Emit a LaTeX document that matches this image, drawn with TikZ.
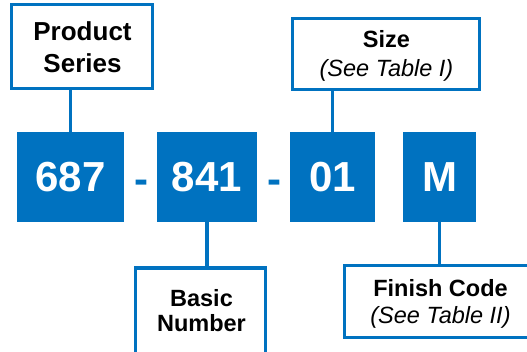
\documentclass[tikz,border=0pt]{standalone}
\usepackage{fontspec}
\setmainfont{Liberation Sans}
\definecolor{pblue}{RGB}{0,114,192}
\begin{document}
\begin{tikzpicture}[x=1pt,y=-1pt,
  bluebox/.style={fill=pblue, draw=none, inner sep=0pt, minimum height=90pt, text=white, font=\fontsize{42}{42}\selectfont\bfseries},
  lbox/.style={draw=pblue, line width=3.2pt, fill=white, inner sep=0pt},
  conn/.style={draw=pblue, line width=3.2pt},
  lt/.style={anchor=base, inner sep=0pt, font=\fontsize{23.5}{28}\selectfont\bfseries},
  lti/.style={anchor=base, inner sep=0pt, font=\fontsize{23.5}{28}\selectfont\itshape},
  hyph/.style={anchor=base, inner sep=0pt, text=pblue, font=\fontsize{42}{42}\selectfont\bfseries}
]
\useasboundingbox (0,0) rectangle (527,351);
\clip (0,0) rectangle (527,351);

% code boxes
\node[bluebox, minimum width=107pt] (b1) at (70.5,177) {687};
\node[bluebox, minimum width=100pt] (b2) at (207,177) {841};
\node[bluebox, minimum width=85pt] (b3) at (332.5,177) {01};
\node[bluebox, minimum width=73pt] (b4) at (439.5,177) {M};
\node[hyph] (h1) at (141,193) {-};
\node[hyph] (h2) at (274.5,193) {-};

% label boxes
\node[lbox, minimum width=140.8pt, minimum height=83.8pt] (ps) at (82,46.5) {};
\node[lbox, minimum width=186.8pt, minimum height=70.8pt] (sz) at (386,54) {};
\node[lbox, minimum width=129.8pt, minimum height=110pt] (bn) at (200.5,323) {};
\node[lbox, minimum width=190.8pt, minimum height=71.8pt] (fc) at (440,301.5) {};

% label texts
\node[lt, font=\fontsize{26}{30}\selectfont\bfseries] (ps1) at (82.5,40) {Product};
\node[lt, font=\fontsize{26}{30}\selectfont\bfseries] (ps2) at (82.5,72) {Series};
\node[lt] (sz1) at (386.5,47) {Size};
\node[lti] (sz2) at (386.5,76) {(See Table I)};
\node[lt] (bn1) at (201.5,306) {Basic};
\node[lt] (bn2) at (201.5,331) {Number};
\node[lt] (fc1) at (440.5,296) {Finish Code};
\node[lti] (fc2) at (440.5,323) {(See Table II)};

% connectors
\draw[conn] (b1.north) -- (b1.north |- ps.south);
\draw[conn] (b3.north) -- (b3.north |- sz.south);
\draw[conn] (b2.south) -- (b2.south |- bn.north);
\draw[conn] (b4.south) -- (b4.south |- fc.north);
\end{tikzpicture}
\end{document}
